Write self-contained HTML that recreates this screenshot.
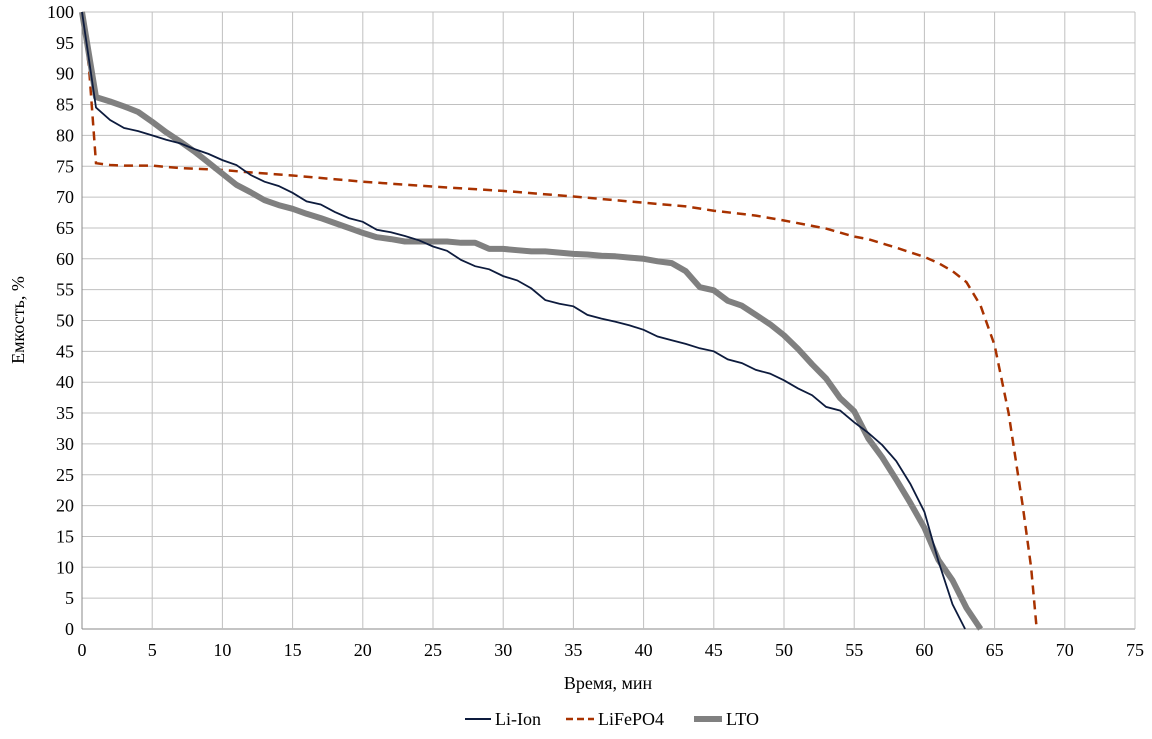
<!DOCTYPE html>
<html><head><meta charset="utf-8"><style>
html,body{margin:0;padding:0;background:#fff;}
svg text{font-family:"Liberation Serif",serif;font-size:18px;fill:#000;}
</style></head><body>
<svg id="chart" width="1152" height="734" xmlns="http://www.w3.org/2000/svg">
<g id="grid"></g>
<g id="series"></g>
<g id="ticks"></g>
<text x="608" y="689" text-anchor="middle">Время, мин</text>
<text transform="translate(24,320) rotate(-90)" text-anchor="middle">Емкость, %</text>
<g>
<g><line x1="465" y1="719" x2="491" y2="719" stroke="#0d1b3d" stroke-width="2"/><text x="495" y="725">Li-Ion</text></g>
<g><line x1="566" y1="719" x2="594" y2="719" stroke="#a83200" stroke-width="2.5" stroke-dasharray="7,4"/><text x="598" y="725">LiFePO4</text></g>
<g><line x1="694" y1="719" x2="722" y2="719" stroke="#808080" stroke-width="6"/><text x="726" y="725">LTO</text></g>
</g>
</svg>
<script>
const xTicks=[0,5,10,15,20,25,30,35,40,45,50,55,60,65,70,75];
const yTicks=[0,5,10,15,20,25,30,35,40,45,50,55,60,65,70,75,80,85,90,95,100];
const liIonX=[0,1,2,3,4,5,6,7,8,9,10,11,12,13,14,15,16,17,18,19,20,21,22,23,24,25,26,27,28,29,30,31,32,33,34,35,36,37,38,39,40,41,42,43,44,45,46,47,48,49,50,51,52,53,54,55,56,57,58,59,60,61,62,62.9];
const liIonY=[100,84.5,82.5,81.2,80.7,80,79.3,78.7,77.8,77,76,75.2,73.6,72.5,71.8,70.7,69.3,68.8,67.6,66.6,66,64.7,64.3,63.7,63,62,61.3,59.8,58.8,58.3,57.2,56.5,55.2,53.3,52.7,52.3,50.9,50.3,49.8,49.2,48.5,47.4,46.8,46.2,45.5,45,43.7,43.1,42,41.4,40.3,39,37.9,36,35.4,33.5,31.8,29.8,27.2,23.5,19,11,4,0];
const lfpX=[0,0.5,1,2,3,4,5,6,7,8,9,10,12,15,20,25,30,35,40,43,45,48,50,53,55,56,58,60,61,62,63,64,65,66,67,67.6,68];
const lfpY=[100,91,75.5,75.2,75.1,75.1,75.1,74.9,74.7,74.6,74.5,74.4,74,73.5,72.5,71.7,71,70.1,69.1,68.5,67.8,67,66.2,64.9,63.6,63.2,61.8,60.3,59.3,58,56.2,52.4,46,35,20,10,0];
const ltoX=[0,1,2,3,4,5,6,7,8,9,10,11,12,13,14,15,16,17,18,19,20,21,22,23,24,25,26,27,28,29,30,31,32,33,34,35,36,37,38,39,40,41,42,43,44,45,46,47,48,49,50,51,52,53,54,55,56,57,58,59,60,61,62,63,64];
const ltoY=[100,86.2,85.5,84.7,83.8,82.2,80.5,79,77.4,75.6,73.8,72,70.8,69.5,68.7,68.1,67.3,66.6,65.8,65,64.2,63.5,63.2,62.8,62.8,62.8,62.8,62.6,62.6,61.6,61.6,61.4,61.2,61.2,61,60.8,60.7,60.5,60.4,60.2,60,59.6,59.3,58,55.4,54.9,53.2,52.4,50.9,49.4,47.6,45.4,42.9,40.6,37.4,35.3,30.9,27.8,24.2,20.4,16.4,11.2,7.9,3.4,0];
const L=82,R=1135,T=12,B=629;
const sx=v=>L+(v-0)/(75-0)*(R-L);
const sy=v=>B-(v-0)/(100-0)*(B-T);
const NS="http://www.w3.org/2000/svg";
const grid=document.getElementById('grid'),ticks=document.getElementById('ticks'),series=document.getElementById('series');
function mk(tag,attrs,parent){const e=document.createElementNS(NS,tag);for(const k in attrs)e.setAttribute(k,attrs[k]);parent.appendChild(e);return e;}
yTicks.forEach(v=>{
  const ln=mk('line',{x1:L,x2:R,y1:sy(v),y2:sy(v),stroke:v===0?'#888':'#c0c0c0','stroke-width':1},grid);
  
  
  const t=mk('text',{x:L-8,y:sy(v)+6,'text-anchor':'end'},ticks);t.textContent=v;
  
  
});
xTicks.forEach(v=>{
  const ln=mk('line',{x1:sx(v),x2:sx(v),y1:T,y2:B,stroke:v===0?'#888':'#c0c0c0','stroke-width':1},grid);
  
  
  const t=mk('text',{x:sx(v),y:B+27,'text-anchor':'middle'},ticks);t.textContent=v;
  
  
});
function path(xs,ys){return xs.map((x,i)=>(i?'L':'M')+sx(x).toFixed(1)+' '+sy(ys[i]).toFixed(1)).join(' ');}
const p1=mk('path',{d:path(lfpX,lfpY),fill:'none',stroke:'#a83200','stroke-width':2.5,'stroke-dasharray':'9,6'},series);


const p2=mk('path',{d:path(ltoX,ltoY),fill:'none',stroke:'#808080','stroke-width':6,'stroke-linejoin':'round'},series);


const p3=mk('path',{d:path(liIonX,liIonY),fill:'none',stroke:'#0d1b3d','stroke-width':1.8},series);


</script>
</body></html>
